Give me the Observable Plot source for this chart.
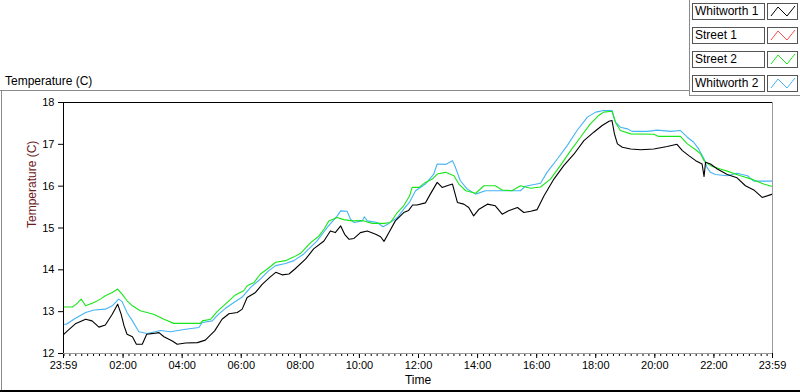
<!DOCTYPE html>
<html>
<head>
<meta charset="utf-8">
<script src="https://cdn.jsdelivr.net/npm/d3@7"></script>
<script src="https://cdn.jsdelivr.net/npm/@observablehq/plot@0.6"></script>
<style>
  html, body { margin: 0; padding: 0; background: #fff; }
  #wrap { position: relative; width: 800px; height: 392px; font-family: "Liberation Sans", Arial, sans-serif; overflow: hidden; }
  #chart { position: absolute; left: 0; top: 0; }
  .deco { position: absolute; }
  .title { position: absolute; left: 5px; top: 74px; font-size: 12px; color: #000; }
  .lgtext { position: absolute; left: 692px; width: 69px; height: 15px; border: 1px solid #555; background: #fff; font-size: 12px; line-height: 15px; padding-left: 2px; box-sizing: content-box; }
  .lgicon { position: absolute; left: 767px; width: 29px; height: 15px; border: 1px solid #555; background: #fff; }
</style>
</head>
<body>
<div id="wrap">
  <div id="chart"></div>
</div>
<script>
// ---- data (minutes after midnight; -1 = 23:59 previous day, 1439 = 23:59) ----
const seriesNames = ["Whitworth 1", "Street 1", "Street 2", "Whitworth 2"];
const seriesColors = ["#000000", "#ff4a4a", "#19e619", "#45b4f5"];

const yTicks = [12, 13, 14, 15, 16, 17, 18];
const xTickLabels = ["23:59", "02:00", "04:00", "06:00", "08:00", "10:00", "12:00", "14:00", "16:00", "18:00", "20:00", "22:00", "23:59"];
const xTickMinutes = [-1, 120, 240, 360, 480, 600, 720, 840, 960, 1080, 1200, 1320, 1439];

const whitworth1Min = [-1, 7, 23, 44, 57, 71, 84, 98, 109, 116, 122, 128, 139, 147, 159, 168, 182, 193, 203, 220, 230, 247, 271, 287, 306, 321, 335, 352, 362, 372, 389, 403, 419, 430, 443, 457, 469, 491, 507, 528, 541, 551, 562, 570, 579, 589, 602, 616, 633, 643, 650, 660, 673, 690, 700, 708, 717, 734, 744, 758, 768, 778, 789, 799, 812, 822, 832, 843, 860, 876, 890, 903, 921, 934, 948, 961, 975, 995, 1015, 1036, 1056, 1076, 1093, 1107, 1113, 1118, 1124, 1134, 1151, 1171, 1198, 1225, 1245, 1256, 1269, 1283, 1296, 1300, 1303, 1313, 1327, 1347, 1367, 1384, 1401, 1418, 1439];
const whitworth1Temp = [12.45, 12.54, 12.71, 12.82, 12.78, 12.63, 12.68, 12.94, 13.18, 12.94, 12.66, 12.46, 12.40, 12.22, 12.22, 12.46, 12.48, 12.50, 12.40, 12.30, 12.22, 12.25, 12.26, 12.32, 12.54, 12.82, 12.95, 12.98, 13.06, 13.34, 13.46, 13.66, 13.83, 13.94, 13.88, 13.90, 14.02, 14.26, 14.50, 14.69, 14.93, 14.89, 15.05, 14.85, 14.73, 14.75, 14.89, 14.93, 14.85, 14.79, 14.68, 14.89, 15.17, 15.37, 15.42, 15.55, 15.55, 15.60, 15.81, 16.09, 15.97, 16.01, 16.05, 15.61, 15.57, 15.49, 15.29, 15.45, 15.57, 15.53, 15.33, 15.41, 15.49, 15.37, 15.40, 15.44, 15.77, 16.17, 16.49, 16.77, 17.09, 17.29, 17.45, 17.55, 17.57, 17.25, 17.01, 16.93, 16.89, 16.87, 16.89, 16.95, 17.00, 16.85, 16.73, 16.61, 16.53, 16.23, 16.57, 16.53, 16.41, 16.28, 16.20, 16.01, 15.91, 15.73, 15.81];

const street1Min = [];
const street1Temp = [];

const street2Min = [-1, 17, 25, 35, 44, 61, 74, 84, 98, 109, 118, 128, 139, 155, 182, 203, 223, 277, 281, 298, 311, 321, 335, 348, 365, 372, 386, 399, 413, 430, 450, 467, 480, 501, 518, 528, 538, 555, 568, 585, 606, 626, 650, 663, 677, 690, 702, 707, 721, 734, 748, 758, 775, 792, 802, 816, 836, 853, 876, 890, 910, 927, 948, 968, 988, 1008, 1029, 1049, 1069, 1086, 1096, 1113, 1120, 1130, 1151, 1198, 1208, 1252, 1266, 1283, 1293, 1300, 1313, 1333, 1347, 1374, 1401, 1421, 1439];
const street2Temp = [13.11, 13.11, 13.18, 13.30, 13.14, 13.22, 13.30, 13.38, 13.46, 13.54, 13.42, 13.26, 13.14, 13.02, 12.94, 12.82, 12.72, 12.72, 12.78, 12.82, 13.00, 13.11, 13.26, 13.40, 13.50, 13.62, 13.70, 13.90, 14.02, 14.18, 14.22, 14.31, 14.39, 14.65, 14.81, 14.97, 15.17, 15.25, 15.20, 15.17, 15.18, 15.11, 15.11, 15.13, 15.37, 15.53, 15.77, 15.97, 15.97, 16.09, 16.17, 16.29, 16.33, 16.25, 16.05, 15.89, 15.83, 16.01, 16.01, 15.91, 15.89, 16.01, 15.95, 15.98, 16.17, 16.49, 16.85, 17.17, 17.49, 17.69, 17.77, 17.79, 17.53, 17.33, 17.25, 17.24, 17.19, 17.19, 17.01, 16.87, 16.77, 16.61, 16.49, 16.41, 16.36, 16.25, 16.15, 16.05, 15.99];

const whitworth2Min = [-1, 5, 20, 44, 61, 84, 98, 111, 118, 128, 139, 152, 169, 196, 216, 247, 274, 281, 301, 314, 328, 345, 362, 379, 396, 416, 430, 450, 467, 487, 514, 535, 555, 562, 575, 582, 589, 606, 610, 616, 636, 648, 660, 677, 690, 702, 714, 734, 751, 758, 775, 789, 795, 805, 819, 836, 856, 927, 937, 968, 981, 1002, 1022, 1042, 1063, 1080, 1096, 1113, 1120, 1130, 1144, 1154, 1185, 1205, 1232, 1252, 1266, 1279, 1289, 1300, 1306, 1313, 1323, 1347, 1367, 1388, 1401, 1439];
const whitworth2Temp = [12.70, 12.70, 12.82, 12.98, 13.04, 13.06, 13.14, 13.30, 13.24, 12.98, 12.78, 12.52, 12.48, 12.55, 12.52, 12.58, 12.62, 12.74, 12.78, 12.94, 13.08, 13.22, 13.35, 13.58, 13.75, 13.98, 14.10, 14.15, 14.22, 14.38, 14.69, 15.02, 15.29, 15.41, 15.40, 15.21, 15.13, 15.17, 15.27, 15.17, 15.13, 15.03, 15.11, 15.25, 15.45, 15.62, 15.89, 16.05, 16.29, 16.53, 16.52, 16.61, 16.45, 16.13, 15.93, 15.81, 15.89, 15.89, 16.00, 16.07, 16.33, 16.65, 16.97, 17.33, 17.65, 17.77, 17.81, 17.81, 17.53, 17.41, 17.37, 17.31, 17.31, 17.34, 17.31, 17.33, 17.17, 17.05, 16.89, 16.65, 16.45, 16.33, 16.28, 16.25, 16.31, 16.25, 16.12, 16.12];

// ---- build ----
const toDate = m => new Date(2000, 0, 2, 0, m);
const seriesMin = [whitworth1Min, street1Min, street2Min, whitworth2Min];
const seriesTemp = [whitworth1Temp, street1Temp, street2Temp, whitworth2Temp];
const rows = [];
seriesNames.forEach((name, i) => {
  seriesMin[i].forEach((m, j) => rows.push({series: name, time: toDate(m), temp: seriesTemp[i][j]}));
});
const xStart = toDate(xTickMinutes[0]);
const xEnd = toDate(xTickMinutes[xTickMinutes.length - 1]);
const majorTicks = xTickMinutes.map(toDate);
const labelByTime = new Map(majorTicks.map((d, i) => [+d, xTickLabels[i]]));
const minorTicks = d3.range(0, 1440, 12).map(toDate);

const drawOrder = ["Whitworth 2", "Street 2", "Street 1", "Whitworth 1"];

const plot = Plot.plot({
  width: 800,
  height: 392,
  marginLeft: 63,
  marginRight: 28,
  marginTop: 102,
  marginBottom: 39,
  style: {fontFamily: "'Liberation Sans', Arial, sans-serif", fontSize: "11px", background: "transparent", color: "#000"},
  x: {type: "time", domain: [xStart, xEnd]},
  y: {domain: [12, 18]},
  color: {domain: seriesNames, range: seriesColors},
  marks: [
    Plot.axisX({ticks: minorTicks, tickSize: 3, tickFormat: () => "", label: null, stroke: "#000"}),
    Plot.axisX({ticks: majorTicks, tickSize: 5, tickPadding: 3, tickFormat: d => labelByTime.get(+d), label: null, fontSize: 11}),
    Plot.axisY({ticks: yTicks, tickSize: 5, tickPadding: 4, tickFormat: d => String(d), label: null, fontSize: 11}),
    ...drawOrder.map(name => Plot.line(rows.filter(r => r.series === name), {x: "time", y: "temp", stroke: "series", strokeWidth: 1.1})),
    Plot.ruleX([xEnd], {stroke: "#9a9a9a"}),
    Plot.ruleY([12], {stroke: "#9a9a9a"}),
    Plot.ruleY([18], {stroke: "#000"}),
    Plot.ruleX([xStart], {stroke: "#000"}),
    Plot.text(["Temperature (C)"], {frameAnchor: "left", dx: -31, rotate: -90, fill: "#6e1a1a", fontSize: 12}),
    Plot.text(["Time"], {frameAnchor: "bottom", dy: 30, fill: "#000", fontSize: 12})
  ]
});
document.getElementById("chart").appendChild(plot);

// ---- decorations, title and legend ----
const wrap = document.getElementById("wrap");
function deco(l, t, w, h, c) {
  const d = document.createElement("div");
  d.className = "deco";
  Object.assign(d.style, {left: l + "px", top: t + "px", width: w + "px", height: h + "px", background: c});
  wrap.appendChild(d);
}
deco(0, 90, 690, 1, "#8a8a8a");
deco(1, 90, 1, 302, "#8a8a8a");
deco(0, 390, 800, 2, "#000");
deco(689, 0, 1, 96, "#8a8a8a");
deco(689, 95, 111, 1, "#8a8a8a");

const title = document.createElement("div");
title.className = "title";
title.textContent = "Temperature (C)";
wrap.appendChild(title);

const legendTops = [3, 27, 51, 75];
seriesNames.forEach((name, i) => {
  const t = document.createElement("div");
  t.className = "lgtext";
  t.style.top = legendTops[i] + "px";
  t.textContent = name;
  wrap.appendChild(t);
  const ic = document.createElement("div");
  ic.className = "lgicon";
  ic.style.top = legendTops[i] + "px";
  ic.innerHTML = `<svg width="29" height="15"><polyline points="3,12 10,3 19,12 27,2" fill="none" stroke="${seriesColors[i]}" stroke-width="1"/></svg>`;
  wrap.appendChild(ic);
});
</script>
</body>
</html>
